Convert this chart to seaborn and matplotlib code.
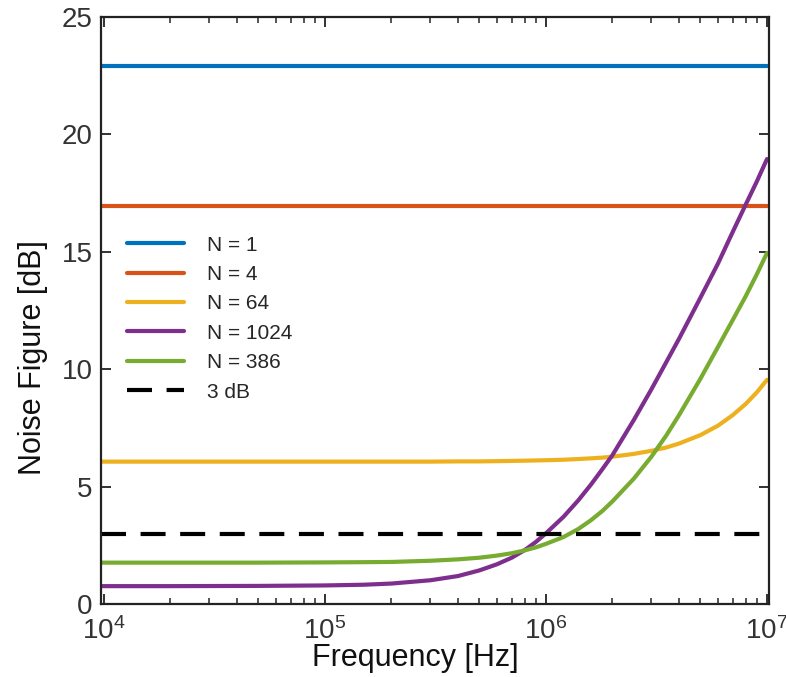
import numpy as np
import pandas as pd
import matplotlib
matplotlib.use("Agg")
import matplotlib.pyplot as plt
import seaborn as sns
from matplotlib.ticker import LogLocator, NullFormatter

# ---- data ----
freq = [9.7e3, 2e4, 5e4, 1e5, 1.5e5, 2e5, 3e5, 4e5, 5e5, 6e5, 7e5, 8e5, 9e5,
        1e6, 1.2e6, 1.4e6, 1.6e6, 1.8e6, 2e6, 2.5e6, 3e6, 3.5e6, 4e6, 5e6,
        6e6, 7e6, 8e6, 9e6, 1e7]
nf_n1 = [22.9] * len(freq)
nf_n4 = [16.95] * len(freq)
nf_n64 = [6.07, 6.07, 6.07, 6.07, 6.07, 6.07, 6.07, 6.08, 6.08, 6.09, 6.10, 6.11, 6.12,
          6.13, 6.15, 6.18, 6.21, 6.24, 6.28, 6.40, 6.53, 6.67, 6.84, 7.20,
          7.60, 8.05, 8.52, 9.02, 9.55]
nf_n1024 = [0.77, 0.77, 0.78, 0.80, 0.83, 0.88, 1.02, 1.20, 1.44, 1.70, 1.98, 2.30, 2.65,
            3.02, 3.72, 4.42, 5.10, 5.75, 6.35, 7.85, 9.15, 10.3, 11.3, 13.05,
            14.5, 15.85, 17.0, 18.0, 18.95]
nf_n386 = [1.77, 1.77, 1.77, 1.78, 1.79, 1.80, 1.85, 1.91, 1.98, 2.07, 2.17, 2.29, 2.42,
           2.57, 2.86, 3.20, 3.58, 3.97, 4.38, 5.35, 6.28, 7.18, 8.05, 9.60,
           10.95, 12.1, 13.1, 14.05, 14.95]
ref_db = 3.0
series_labels = ["N = 1", "N = 4", "N = 64", "N = 1024", "N = 386"]
series_values = [nf_n1, nf_n4, nf_n64, nf_n1024, nf_n386]
colors = ["#0072BD", "#D95319", "#EDB120", "#7E2F8E", "#77AC30"]

rows = []
for lab, vals in zip(series_labels, series_values):
    for f, v in zip(freq, vals):
        rows.append({"Frequency": f, "NF": v, "Series": lab})
df = pd.DataFrame(rows)

sns.set_style("ticks")
plt.rcParams["font.family"] = ["Liberation Sans", "DejaVu Sans"]
plt.rcParams["mathtext.default"] = "regular"

fig = plt.figure(figsize=(7.86, 6.77), dpi=100)
ax = fig.add_axes([0.1285, 0.1075, 0.9787 - 0.1285, 0.975 - 0.1075])

sns.lineplot(data=df, x="Frequency", y="NF", hue="Series", hue_order=series_labels,
             palette=dict(zip(series_labels, colors)), linewidth=3.0, ax=ax,
             estimator=None, sort=True)
ax.axhline(ref_db, color="black", linewidth=3.0, dashes=(6, 3.5), label="3 dB")

ax.set_xscale("log")
ax.set_xlim(9.7e3, 1.024e7)
ax.set_ylim(0, 25)
ax.set_yticks([0, 5, 10, 15, 20, 25])
ax.xaxis.set_major_locator(LogLocator(base=10, numticks=10))
ax.xaxis.set_minor_locator(LogLocator(base=10, subs=np.arange(2, 10), numticks=20))
ax.xaxis.set_minor_formatter(NullFormatter())

ax.set_xlabel("Frequency [Hz]", fontsize=22, color="#111111")
ax.set_ylabel("Noise Figure [dB]", fontsize=22, color="#111111")
ax.xaxis.set_label_coords(0.47, -0.066)
ax.yaxis.set_label_coords(-0.079, 0.42)
ax.tick_params(axis="both", which="major", direction="in", length=7, width=1.3,
               labelsize=20, top=True, right=True, colors="#222222", labelcolor="#333333")
ax.tick_params(axis="both", which="minor", direction="in", length=4, width=1.1,
               top=True, right=True)
ax.tick_params(axis="x", which="major", pad=9)
ax.tick_params(axis="y", which="major", pad=6)
for s in ax.spines.values():
    s.set_linewidth(1.6)
    s.set_color("#222222")

handles, labels = ax.get_legend_handles_labels()
ax.legend(handles, labels, loc="upper left", bbox_to_anchor=(0.027, 0.642), frameon=False,
          fontsize=15, handlelength=2.7, handletextpad=1.1, labelspacing=0.5,
          borderaxespad=0)

fig.savefig("out.png", dpi=100)
